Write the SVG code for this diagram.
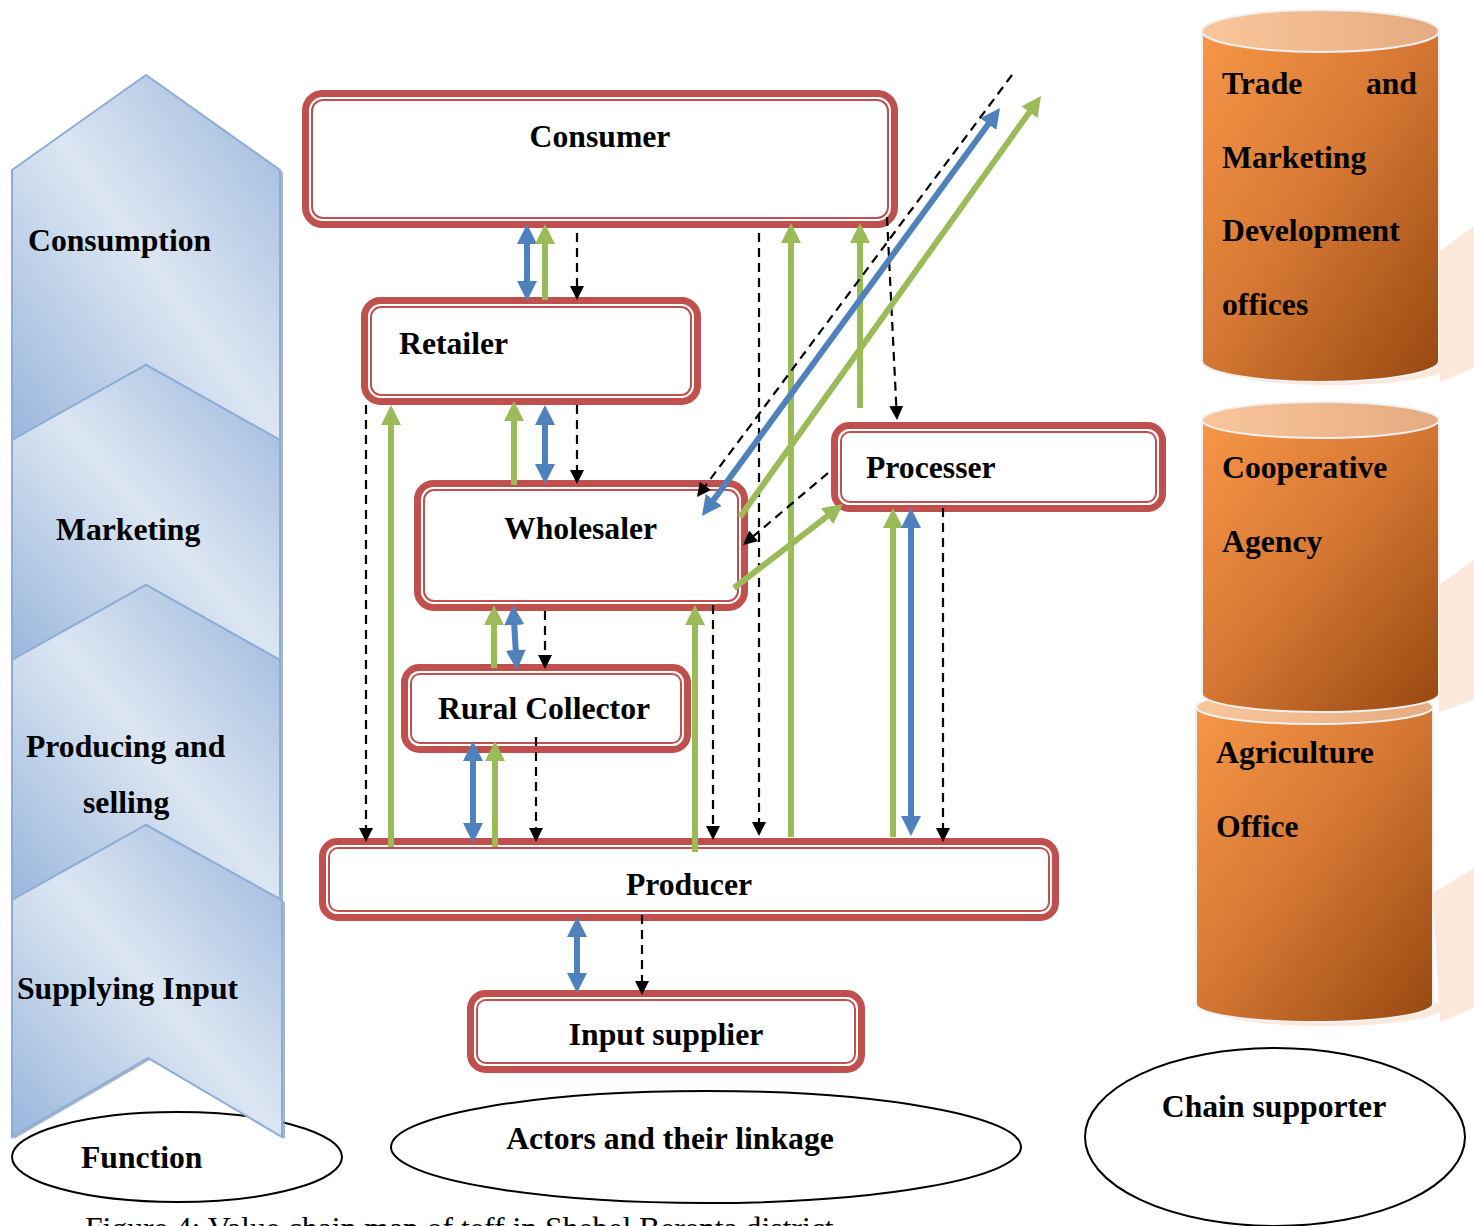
<svg xmlns="http://www.w3.org/2000/svg" width="1474" height="1226" viewBox="0 0 1474 1226">
<defs>
<style>
text{font-family:"Liberation Serif","Times New Roman",serif;font-weight:bold;font-size:31.7px;fill:#000}
.cap{font-weight:normal}
.chev{fill:url(#chevGrad);stroke:#8eadd6;stroke-width:2}
.chevSh{fill:#8397b1;opacity:.7}
.no{fill:#fff;stroke:#c0504d;stroke-width:7}
.ni{fill:none;stroke:#c0504d;stroke-width:2}
.body{stroke:#f0f0f0;stroke-width:2}
.capTop{fill:url(#capGrad);stroke:#f0f0f0;stroke-width:2}
.shadow{fill:#fce8da}
.ell{fill:#fff;stroke:#000;stroke-width:2}
.blue{stroke:#4f81bd;stroke-width:6;fill:none}
.green{stroke:#9bbb59;stroke-width:6;fill:none}
.dash{stroke:#000;stroke-width:2.2;stroke-dasharray:9 6;fill:none}
</style>
<linearGradient id="chevGrad" x1="0" y1="1" x2="1" y2="0">
<stop offset="0" stop-color="#9ab6dc"/>
<stop offset="0.5" stop-color="#dce6f2"/>
<stop offset="1" stop-color="#9ab6dc"/>
</linearGradient>
<linearGradient id="cylGrad" x1="0" y1="0" x2="1" y2="1">
<stop offset="0" stop-color="#f79646"/>
<stop offset="0.45" stop-color="#d87a35"/>
<stop offset="1" stop-color="#964810"/>
</linearGradient>
<linearGradient id="capGrad" x1="0" y1="0" x2="1" y2="0">
<stop offset="0" stop-color="#f9c69c"/>
<stop offset="1" stop-color="#e6ab80"/>
</linearGradient>
<marker id="hb" markerUnits="userSpaceOnUse" markerWidth="20" markerHeight="20" refX="4" refY="10" orient="auto-start-reverse"><path d="M0,0 L20,10 L0,20 Z" fill="#4f81bd"/></marker>
<marker id="hg" markerUnits="userSpaceOnUse" markerWidth="20" markerHeight="20" refX="4" refY="10" orient="auto-start-reverse"><path d="M0,0 L20,10 L0,20 Z" fill="#9bbb59"/></marker>
<marker id="hk" markerUnits="userSpaceOnUse" markerWidth="14" markerHeight="14" refX="2" refY="7" orient="auto"><path d="M0,0 L14,7 L0,14 Z" fill="#000"/></marker>
</defs>
<rect width="1474" height="1226" fill="#fff"/>

<!-- Function ellipse (behind chevrons) -->
<g id="ell-function">
<ellipse class="ell" cx="177" cy="1157" rx="165" ry="45"/>
</g>

<!-- Chevrons -->
<g id="chevron-consumption">
<path class="chevSh" d="M14,172 L148,77 L283,172 L283,442 L148,367 L14,442 Z"/>
<path class="chev" d="M12,170 L146,75 L280,170 L280,440 L146,365 L12,440 Z"/>
<text x="28" y="251">Consumption</text>
</g>
<g id="chevron-marketing">
<path class="chevSh" d="M14,442 L148,367 L283,442 L283,662 L148,587 L14,662 Z"/>
<path class="chev" d="M12,440 L146,365 L280,440 L280,660 L146,585 L12,660 Z"/>
<text x="56" y="540">Marketing</text>
</g>
<g id="chevron-producing">
<path class="chevSh" d="M14,662 L148,587 L283,662 L283,902 L148,827 L14,902 Z"/>
<path class="chev" d="M12,660 L146,585 L280,660 L280,900 L146,825 L12,900 Z"/>
<text x="26" y="757">Producing and</text>
<text x="83" y="813">selling</text>
</g>
<g id="chevron-supplying">
<path class="chevSh" d="M14,902 L148,827 L285,902 L285,1139 L150,1060 L14,1139 Z"/>
<path class="chev" d="M12,900 L146,825 L282,900 L282,1137 L148,1058 L12,1137 Z"/>
<text x="17" y="999">Supplying Input</text>
</g>
<g id="label-function"><text x="81" y="1168">Function</text></g>

<!-- Cylinders -->
<g id="cyl-trade">
<polygon class="shadow" points="1439,252 1474,226 1474,368 1440,382"/>
<ellipse class="shadow" cx="1332" cy="366" rx="116" ry="19"/>
<path class="body" fill="url(#cylGrad)" d="M1202,31 L1202,361 A118.5,21 0 0 0 1439,361 L1439,31 Z"/>
<ellipse class="capTop" cx="1320.5" cy="31" rx="118.5" ry="21"/>
<text x="1222" y="94">Trade</text>
<text x="1417" y="94" text-anchor="end">and</text>
<text x="1222" y="168">Marketing</text>
<text x="1222" y="241">Development</text>
<text x="1222" y="315">offices</text>
</g>
<g id="cyl-agriculture">
<polygon class="shadow" points="1433,893 1474,868 1474,1008 1440,1022"/>
<ellipse class="shadow" cx="1326" cy="1008" rx="116" ry="18"/>
<path class="body" fill="url(#cylGrad)" d="M1196,707 L1196,1004 A118.5,18 0 0 0 1433,1004 L1433,707 Z"/>
<ellipse class="capTop" cx="1314.5" cy="707" rx="118.5" ry="17"/>
<text x="1216" y="763">Agriculture</text>
<text x="1216" y="837">Office</text>
</g>
<g id="cyl-cooperative">
<polygon class="shadow" points="1439,585 1474,560 1474,700 1439,712"/>
<path class="body" fill="url(#cylGrad)" d="M1202,420 L1202,694 A118.5,18 0 0 0 1439,694 L1439,420 Z"/>
<ellipse class="capTop" cx="1320.5" cy="420" rx="118.5" ry="18"/>
<text x="1222" y="478">Cooperative</text>
<text x="1222" y="552">Agency</text>
</g>

<!-- Actor nodes -->
<g id="node-consumer">
<rect class="no" x="305.5" y="93.5" width="589" height="131" rx="17"/>
<rect class="ni" x="312" y="100" width="576" height="118" rx="11"/>
<text x="600" y="147" text-anchor="middle">Consumer</text>
</g>
<g id="node-retailer">
<rect class="no" x="364.5" y="300.5" width="333" height="101" rx="16"/>
<rect class="ni" x="371" y="307" width="320" height="88" rx="10"/>
<text x="399" y="354">Retailer</text>
</g>
<g id="node-wholesaler">
<rect class="no" x="417.5" y="483.5" width="327" height="124" rx="16"/>
<rect class="ni" x="424" y="490" width="314" height="111" rx="10"/>
<text x="504" y="539">Wholesaler</text>
</g>
<g id="node-rural-collector">
<rect class="no" x="404.5" y="667.5" width="283" height="82" rx="15"/>
<rect class="ni" x="411" y="674" width="270" height="69" rx="9"/>
<text x="438" y="719">Rural Collector</text>
</g>
<g id="node-processer">
<rect class="no" x="834.5" y="425.5" width="328" height="83" rx="15"/>
<rect class="ni" x="841" y="432" width="315" height="70" rx="9"/>
<text x="866" y="478">Processer</text>
</g>
<g id="node-producer">
<rect class="no" x="322.5" y="841.5" width="733" height="76" rx="15"/>
<rect class="ni" x="329" y="848" width="720" height="63" rx="9"/>
<text x="689" y="895" text-anchor="middle">Producer</text>
</g>
<g id="node-input-supplier">
<rect class="no" x="470.5" y="993.5" width="391" height="76" rx="15"/>
<rect class="ni" x="477" y="1000" width="378" height="63" rx="9"/>
<text x="666" y="1045" text-anchor="middle">Input supplier</text>
</g>

<!-- Connectors -->
<g id="connectors">
<!-- Consumer - Retailer -->
<line class="blue" x1="527" y1="240" x2="527" y2="285" marker-start="url(#hb)" marker-end="url(#hb)"/>
<line class="green" x1="545" y1="300" x2="545" y2="240" marker-end="url(#hg)"/>
<line class="dash" x1="577" y1="233" x2="577" y2="288" marker-end="url(#hk)"/>
<!-- Retailer - Wholesaler -->
<line class="green" x1="514" y1="485" x2="514" y2="417" marker-end="url(#hg)"/>
<line class="blue" x1="545" y1="421" x2="545" y2="468" marker-start="url(#hb)" marker-end="url(#hb)"/>
<line class="dash" x1="577" y1="405" x2="577" y2="472" marker-end="url(#hk)"/>
<!-- Wholesaler - Rural Collector -->
<line class="green" x1="494" y1="668" x2="494" y2="621" marker-end="url(#hg)"/>
<line class="blue" x1="514" y1="621" x2="516" y2="654" marker-start="url(#hb)" marker-end="url(#hb)"/>
<line class="dash" x1="545" y1="611" x2="545" y2="657" marker-end="url(#hk)"/>
<!-- Rural Collector - Producer -->
<line class="blue" x1="473" y1="757" x2="473" y2="827" marker-start="url(#hb)" marker-end="url(#hb)"/>
<line class="green" x1="495" y1="847" x2="495" y2="757" marker-end="url(#hg)"/>
<line class="dash" x1="536" y1="737" x2="536" y2="830" marker-end="url(#hk)"/>
<!-- Retailer - Producer -->
<line class="dash" x1="366" y1="405" x2="366" y2="830" marker-end="url(#hk)"/>
<line class="green" x1="391" y1="847" x2="391" y2="421" marker-end="url(#hg)"/>
<!-- Wholesaler - Producer -->
<line class="green" x1="695" y1="852" x2="695" y2="621" marker-end="url(#hg)"/>
<line class="dash" x1="713" y1="605" x2="713" y2="828" marker-end="url(#hk)"/>
<!-- Consumer - Producer -->
<line class="dash" x1="759" y1="233" x2="759" y2="824" marker-end="url(#hk)"/>
<line class="green" x1="791" y1="837" x2="791" y2="239" marker-end="url(#hg)"/>
<!-- Consumer - Processer -->
<line class="green" x1="860" y1="408" x2="860" y2="239" marker-end="url(#hg)"/>
<line class="dash" x1="887" y1="217" x2="896.4" y2="408" marker-end="url(#hk)"/>
<!-- Processer - Producer -->
<line class="green" x1="893" y1="837" x2="893" y2="524" marker-end="url(#hg)"/>
<line class="blue" x1="911" y1="524" x2="911" y2="820" marker-start="url(#hb)" marker-end="url(#hb)"/>
<line class="dash" x1="943" y1="508" x2="943" y2="830" marker-end="url(#hk)"/>
<!-- Diagonals (export) -->
<line class="dash" x1="1012" y1="75" x2="704.2" y2="487.4" marker-end="url(#hk)"/>
<line class="blue" x1="990.6" y1="120.9" x2="711.4" y2="503.1" marker-start="url(#hb)" marker-end="url(#hb)"/>
<line class="green" x1="740" y1="517" x2="1031.7" y2="109" marker-end="url(#hg)"/>
<!-- Wholesaler - Processer -->
<line class="green" x1="734" y1="588" x2="830.3" y2="513.8" marker-end="url(#hg)"/>
<line class="dash" x1="828" y1="473" x2="752.2" y2="537.2" marker-end="url(#hk)"/>
<!-- Producer - Input supplier -->
<line class="blue" x1="577" y1="933" x2="577" y2="977" marker-start="url(#hb)" marker-end="url(#hb)"/>
<line class="dash" x1="642" y1="915" x2="642" y2="983" marker-end="url(#hk)"/>
</g>

<!-- Bottom ellipses -->
<g id="ell-actors">
<ellipse class="ell" cx="706" cy="1147" rx="315" ry="56"/>
<text x="670" y="1149" text-anchor="middle">Actors and their linkage</text>
</g>
<g id="ell-chain">
<ellipse class="ell" cx="1275" cy="1137" rx="190" ry="89"/>
<text x="1274" y="1117" text-anchor="middle">Chain supporter</text>
</g>

<text class="cap" x="85" y="1239">Figure 4: Value chain map of teff in Shebel Berenta district</text>
</svg>
